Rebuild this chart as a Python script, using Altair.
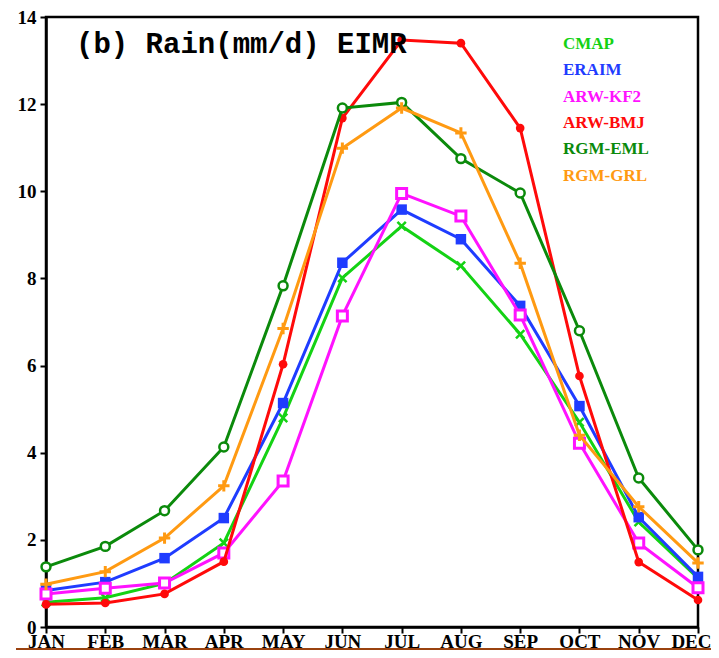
import altair as alt
import pandas as pd

months = ["JAN", "FEB", "MAR", "APR", "MAY", "JUN", "JUL", "AUG", "SEP", "OCT", "NOV", "DEC"]
series = ["CMAP", "ERAIM", "ARW-KF2", "ARW-BMJ", "RGM-EML", "RGM-GRL"]
colors = ["#14d214", "#1f3cff", "#ff12ff", "#ff0a0a", "#0b8a0b", "#ff9a12"]

cmap = [0.57, 0.67, 1.0, 1.93, 4.8, 8.01, 9.2, 8.29, 6.72, 4.7, 2.41, 1.12]
eraim = [0.84, 1.03, 1.58, 2.5, 5.14, 8.36, 9.58, 8.9, 7.37, 5.07, 2.52, 1.15]
arw_kf2 = [0.76, 0.89, 1.01, 1.7, 3.35, 7.14, 9.95, 9.43, 7.16, 4.22, 1.93, 0.9]
arw_bmj = [0.52, 0.55, 0.76, 1.5, 6.03, 11.68, 13.47, 13.4, 11.45, 5.76, 1.49, 0.62]
rgm_eml = [1.38, 1.85, 2.67, 4.13, 7.83, 11.91, 12.04, 10.75, 9.96, 6.8, 3.42, 1.77]
rgm_grl = [0.98, 1.27, 2.04, 3.24, 6.85, 10.99, 11.91, 11.34, 8.35, 4.4, 2.76, 1.47]

values = [cmap, eraim, arw_kf2, arw_bmj, rgm_eml, rgm_grl]

rows = []
for s, vals in zip(series, values):
    for m, v in zip(months, vals):
        rows.append({"month": m, "series": s, "value": v})
df = pd.DataFrame(rows)

X_SHAPE = "M-1,-1L1,1M-1,1L1,-1"
PLUS_SHAPE = "M-1,0L1,0M0,-1L0,1"
marker_styles = {
    "CMAP": dict(shape=X_SHAPE, filled=False, size=70, strokeWidth=2.5),
    "ERAIM": dict(shape="square", filled=True, size=110, strokeWidth=0),
    "ARW-KF2": dict(shape="square", filled=True, fill="white", size=100, strokeWidth=3),
    "ARW-BMJ": dict(shape="circle", filled=True, size=75, strokeWidth=0),
    "RGM-EML": dict(shape="circle", filled=True, fill="white", size=80, strokeWidth=2.5),
    "RGM-GRL": dict(shape=PLUS_SHAPE, filled=False, size=130, strokeWidth=3),
}

base = alt.Chart(df)
xenc = alt.X("month:N", sort=months, scale=alt.Scale(type="point", padding=0),
             axis=alt.Axis(title=None, labelAngle=0, tickSize=6, labelPadding=14,
                           labelBaseline="alphabetic",
                           labelAlign={"condition": {"test": "datum.value === 'DEC'", "value": "right"},
                                       "value": "center"},
                           labelOffset={"condition": {"test": "datum.value === 'DEC'", "value": 13},
                                        "value": 0},
                           labelFont="Liberation Serif", labelFontWeight="bold",
                           labelFontSize=19, labelColor="black", domainColor="black",
                           domainWidth=2.5, tickColor="black", tickWidth=2, zindex=1,
                           labelOverlap=False, labelBound=False, labelFlush=False))
yenc = alt.Y("value:Q", scale=alt.Scale(domain=[0, 14], nice=False, zero=True),
             axis=alt.Axis(title=None, values=[0, 2, 4, 6, 8, 10, 12, 14], tickSize=6,
                           labelPadding=4, grid=False, labelFont="Liberation Serif",
                           labelFontWeight="bold", labelFontSize=19, labelColor="black",
                           domainColor="black", domainWidth=2.5, tickColor="black",
                           tickWidth=2))

layers = []
for s, c in zip(series, colors):
    sub = base.transform_filter(alt.datum.series == s)
    layers.append(sub.mark_line(color=c, strokeWidth=3).encode(x=xenc, y=yenc))
    st = dict(marker_styles[s])
    if "fill" not in st:
        st["fill"] = c
    layers.append(sub.mark_point(stroke=c, opacity=1, **st).encode(x=xenc, y=yenc))

# legend: coloured names only, top right inside the plot
for i, (s, c) in enumerate(zip(series, colors)):
    layers.append(
        alt.Chart(pd.DataFrame({"name": [s]})).mark_text(
            align="left", baseline="middle", font="Liberation Serif", fontWeight="bold",
            fontSize=17, color=c
        ).encode(x=alt.value(517), y=alt.value(27 + i * 26.3), text="name:N")
    )

title = alt.Chart(pd.DataFrame({"t": ["(b) Rain(mm/d) EIMR"]})).mark_text(
    align="left", baseline="alphabetic", font="Liberation Mono", fontWeight="bold",
    fontSize=29, color="black"
).encode(x=alt.value(30), y=alt.value(36), text="t:N")

bar = alt.Chart(pd.DataFrame({"a": [0]})).mark_rule(color="#9a420f", strokeWidth=3).encode(
    x=alt.value(-30), x2=alt.value(680), y=alt.value(632.5)
)

chart = alt.layer(*layers, title, bar).properties(
    width=652, height=610,
    autosize=alt.AutoSizeParams(type="none"),
    padding={"left": 38, "top": 9, "right": 13, "bottom": 23},
).configure_view(stroke="black", strokeWidth=2.5)

chart.save("out.html", embed_options={"renderer": "svg", "actions": False})
